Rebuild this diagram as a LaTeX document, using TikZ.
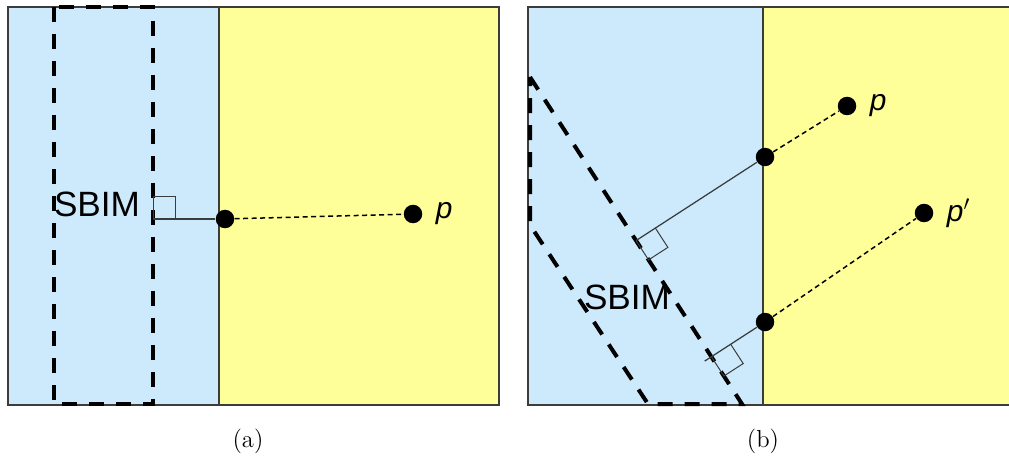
\documentclass[tikz,border=0pt]{standalone}
\usepackage{fontspec}
\newfontfamily\arialfont{Liberation Sans}
\usetikzlibrary{positioning,calc}
\definecolor{leftblue}{RGB}{204,234,252}
\definecolor{rightyellow}{RGB}{255,255,153}
\definecolor{edgegray}{RGB}{60,60,60}

\begin{document}
\begin{tikzpicture}[x=0.2mm, y=-0.2mm, node distance=2.6mm,
	dot/.style={circle, fill=black, inner sep=0pt, minimum size=3.7mm},
	lbl/.style={inner sep=0pt, font=\arialfont\fontsize{17}{20}\selectfont\itshape},
	region/.style={inner sep=0pt, font=\arialfont\fontsize{20}{24}\selectfont},
	sbim/.style={line width=0.8mm, dash pattern=on 3mm off 2.4mm},
	edge/.style={edgegray, line width=0.35mm},
	perp/.style={edgegray, line width=0.25mm},
	ray/.style={black, line width=0.3mm, dash pattern=on 1mm off 0.7mm}]
	\clip (0,0) rectangle (1009,457);
	% (a)
	\fill[leftblue] (8,7) rectangle (219,405);
	\fill[rightyellow] (219,7) rectangle (499,405);
	\draw[edge] (8,7) rectangle (499,405);
	\draw[edge] (219,7) -- (219,405);
	\draw[sbim] (54,7) rectangle (153,404);
	\node[region] (sa) at (97,204) {SBIM};
	\node[dot] (qa) at (225,219) {};
	\node[dot] (pa) at (413,214) {};
	\node[lbl, right=of pa] (lpa) {p};
	\coordinate (fa) at (153,219);
	\draw[perp] (fa) -- (qa);
	\draw[ray] (qa) -- (pa);
	\draw[perp, line width=0.2mm] (fa) -- ++(0,-22) -- ++(22,0) -- ++(0,22);
	\node[font=\fontsize{14}{17}\selectfont] (capa) at (248,441) {(a)};
	% (b)
	\fill[leftblue] (528,7) rectangle (763,405);
	\fill[rightyellow] (763,7) rectangle (1012,405);
	\draw[edge] (1012,7) -- (528,7) -- (528,405) -- (1012,405);
	\draw[edge] (763,7) -- (763,405);
	\coordinate (s1) at (530,77);
	\coordinate (s2) at (742,404);
	\coordinate (s3) at (648,404);
	\coordinate (s4) at (530,225);
	\draw[sbim] (s1) -- (s2) -- (s3) -- (s4) -- cycle;
	\node[region] (sb) at (627,297) {SBIM};
	\node[dot] (qb) at (765,157) {};
	\node[dot] (pb) at (847,106) {};
	\node[lbl, right=of pb] (lpb) {p};
	\node[dot] (qc) at (765,322) {};
	\node[dot] (pc) at (924,213) {};
	\node[lbl, right=of pc] (lpc) {p$'$};
	\coordinate (fb) at ($(s1)!(qb)!(s2)$);
	\coordinate (fc) at ($(s1)!(qc)!(s2)$);
	\draw[perp] (fb) -- (qb);
	\draw[perp] ($(fc)!-1.6mm!(qc)$) -- (qc);
	\draw[ray] (qb) -- (pb);
	\draw[ray] (qc) -- (pc);
	\draw[perp, line width=0.2mm] ($(fb)!4.6mm!(qb)$) -- ($($(fb)!4.6mm!(qb)$)+($(fb)!4.6mm!(s2)$)-(fb)$) -- ($(fb)!4.6mm!(s2)$) -- (fb);
	\draw[perp, line width=0.2mm] ($(fc)!4.6mm!(qc)$) -- ($($(fc)!4.6mm!(qc)$)+($(fc)!4.6mm!(s2)$)-(fc)$) -- ($(fc)!4.6mm!(s2)$) -- (fc);
	\node[font=\fontsize{14}{17}\selectfont] (capb) at (763,441) {(b)};
\end{tikzpicture}
\end{document}
